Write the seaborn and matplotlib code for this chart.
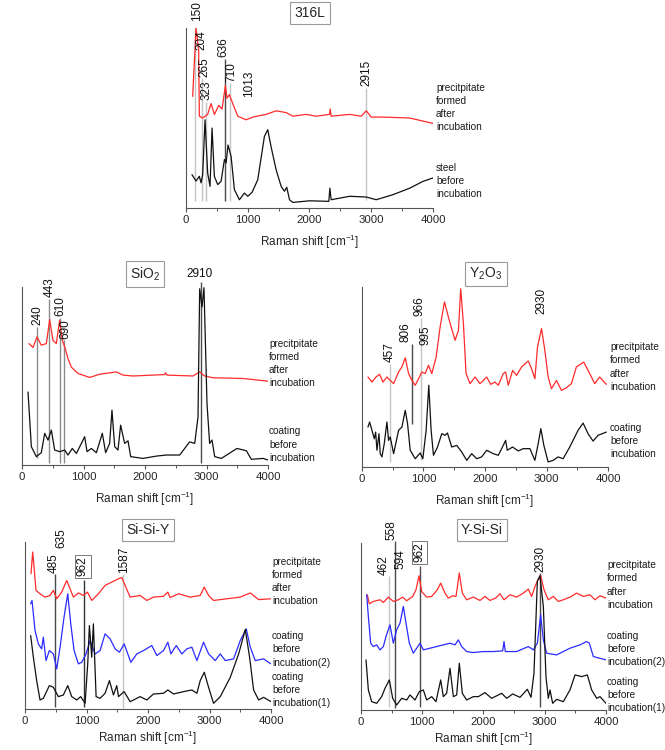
import matplotlib
matplotlib.use("Agg")
import matplotlib.pyplot as plt
import pandas as pd
import seaborn as sns

# --- Spectra (Raman shift in cm-1, intensity in arbitrary units, 0-100 per panel) ---

L316_PREC_X = [108, 162, 205, 216, 270, 351, 405, 460, 530, 584, 638, 665, 703, 757, 838, 973, 1081, 1297,
               1459, 1622, 1730, 1946, 2108, 2324, 2335, 2351, 2649, 2838, 2919, 3000, 3189, 3622, 4000]
L316_PREC_Y = [62, 100, 88, 51, 50, 52, 58, 52, 57, 55, 68, 61, 63, 58, 51, 49, 50.5, 52,
               54, 53, 51, 52, 51, 52, 55, 51, 52, 51, 54, 50.5, 50.5, 50, 47]
L316_STEEL_X = [97, 162, 216, 243, 270, 308, 351, 389, 422, 459, 514, 568, 622, 649, 681, 730, 784, 865, 946, 1000,
                1070, 1162, 1270, 1324, 1378, 1459, 1541, 1595, 1632, 1676, 1730, 2000, 2313, 2330, 2351, 2649,
                2919, 3081, 3351, 3622, 3838, 4000]
L316_STEEL_Y = [18.5, 15, 17.6, 14, 18.5, 49, 19.4, 12, 44.4, 17.6, 13, 14.8, 26.9, 25, 35, 28.7, 10.2, 4.6, 8.3, 6.5,
                8.7, 15.7, 39.8, 43.5, 34, 21.3, 12, 9.3, 11.5, 4.6, 3.1, 4, 3.7, 11, 4.6, 6.5,
                6.1, 4.6, 7.4, 11, 14.8, 16.7]

SIO2_PREC_X = [114, 179, 244, 314, 396, 450, 504, 558, 612, 656, 694, 748, 802, 911, 1100, 1263, 1534, 1642,
               1805, 2320, 2336, 2358, 2780, 2889, 2970, 3106, 3594, 4000]
SIO2_PREC_Y = [68.2, 66, 72, 67.3, 68.2, 81.7, 70, 68.2, 81.3, 70, 66.4, 59.8, 55, 51.4, 49.2, 51, 52.3, 50.5,
               50, 50.8, 51.8, 50.5, 50, 52.3, 50, 49, 48.6, 47.1]
SIO2_COAT_X = [98, 152, 233, 314, 369, 423, 477, 531, 612, 694, 748, 818, 884, 965, 1019, 1057, 1127, 1209, 1306,
               1360, 1425, 1463, 1507, 1561, 1604, 1669, 1724, 1767, 1967, 2184, 2347, 2564, 2726, 2808, 2862,
               2889, 2927, 2959, 3008, 3051, 3089, 3133, 3241, 3496, 3648, 3729, 3919, 4000]
SIO2_COAT_Y = [41, 10.3, 4.7, 6.9, 17.8, 14, 19.6, 8.4, 7.5, 8.4, 5.6, 9.3, 6.5, 12.1, 15.9, 7.5, 9.3, 6.9, 17.8,
               6.9, 12.1, 30.8, 10.3, 8.4, 22.4, 12.1, 13.6, 4.7, 3.7, 5, 5.6, 5.6, 13, 12.1, 27,
               99, 88.8, 99.6, 34.6, 12.1, 14, 4.7, 3.7, 9.3, 8, 3.2, 3.7, 2.8]

Y2O3_PREC_X = [97, 162, 227, 286, 340, 405, 459, 514, 595, 649, 703, 757, 811, 865, 919, 973, 1027, 1081, 1135,
               1205, 1270, 1341, 1405, 1449, 1514, 1568, 1605, 1649, 1692, 1757, 1838, 1919, 2027, 2092, 2162,
               2216, 2297, 2335, 2378, 2449, 2514, 2595, 2703, 2757, 2811, 2854, 2919, 2973, 3027, 3081, 3162,
               3243, 3324, 3405, 3486, 3605, 3703, 3784, 3865, 3973]
Y2O3_PREC_Y = [50, 47.2, 50, 51.5, 47.2, 50, 48.1, 46.3, 52.8, 55.6, 60.7, 51.9, 48.1, 45.4, 49, 52.8, 51.9, 56.5,
               51.9, 61, 77.8, 91.7, 83.3, 77.8, 70.4, 75.9, 99, 79.6, 51.9, 46.3, 50, 46.3, 50, 45.9, 47.2,
               45.4, 51.9, 52.8, 45.4, 53.7, 50.9, 55.6, 58.9, 54.6, 49, 66.7, 76.9, 64.8, 50, 43.5, 48.1,
               42.6, 44, 46.3, 55.6, 58.3, 51.9, 46.3, 50, 45.9]
Y2O3_COAT_X = [97, 124, 162, 200, 222, 243, 276, 297, 324, 362, 405, 432, 459, 514, 595, 649, 703, 741, 784, 865,
               946, 989, 1043, 1086, 1124, 1162, 1227, 1297, 1351, 1389, 1459, 1541, 1622, 1703, 1784, 1865,
               1946, 2027, 2135, 2216, 2297, 2335, 2362, 2449, 2541, 2622, 2730, 2811, 2865, 2908, 2957, 3027,
               3108, 3189, 3270, 3378, 3514, 3595, 3676, 3757, 3838, 3973]
Y2O3_COAT_Y = [22.2, 25, 20.4, 15.7, 19.4, 9.3, 18.5, 7.4, 5.6, 13, 25, 14.8, 16.7, 7.4, 20.4, 22.2, 31.5, 24, 9.3,
               4.6, 7.8, 4.6, 20.4, 45.4, 20.4, 6.5, 11, 18.5, 17.6, 18.9, 11.1, 12, 8.3, 3.7, 7.4, 4.6,
               5.6, 9.3, 7.4, 6.5, 12, 14.8, 9.3, 11.1, 8.9, 10.2, 10.2, 3.7, 13, 21.3, 12, 2.8,
               3.7, 5.6, 4.6, 11.1, 20.4, 24.4, 18.5, 14.4, 17.6, 19.4]

SSY_PREC_X = [98, 125, 147, 179, 244, 326, 407, 461, 516, 597, 678, 733, 787, 868, 950, 1015, 1085, 1194, 1302,
              1411, 1520, 1574, 1628, 1709, 1872, 1981, 2089, 2252, 2323, 2360, 2496, 2686, 2849, 2915, 2985,
              3066, 3283, 3500, 3663, 3799, 4000]
SSY_PREC_Y = [81, 94, 85, 71, 69, 67, 68, 71, 66, 70, 77, 72, 67, 69.5, 68, 70, 65, 69, 74,
              76, 78, 78.7, 74, 67, 68, 65, 67, 67.5, 70, 66.7, 69, 67, 68, 73, 68,
              65, 66, 67, 69.5, 65.5, 66]
SSY_COAT2_X = [92, 114, 163, 217, 271, 298, 342, 396, 461, 516, 570, 635, 695, 744, 798, 868, 923, 993, 1058, 1140,
               1221, 1302, 1384, 1465, 1536, 1612, 1721, 1818, 1927, 2062, 2144, 2252, 2323, 2372, 2459, 2551,
               2632, 2713, 2795, 2903, 2985, 3093, 3175, 3256, 3392, 3500, 3598, 3663, 3744, 3880, 4000]
SSY_COAT2_Y = [63, 65, 47, 39, 36, 43, 29, 35, 33, 24, 37, 55, 69, 51, 35, 27, 28, 33, 41, 33,
               35, 45, 42, 36, 34, 39, 28, 33, 35, 38, 32, 35, 40, 33, 38, 33,
               36, 37, 29, 40, 33, 29, 33, 29, 30, 41, 48, 37, 29, 30, 27]
SSY_COAT1_X = [92, 136, 190, 244, 298, 396, 461, 543, 624, 695, 760, 841, 906, 977, 1020, 1047, 1085, 1112, 1156,
               1221, 1302, 1373, 1438, 1492, 1520, 1612, 1709, 1872, 1981, 2089, 2252, 2323, 2415, 2578, 2713,
               2795, 2849, 2915, 2985, 3066, 3175, 3338, 3474, 3582, 3652, 3717, 3799, 3880, 4000]
SSY_COAT1_Y = [44, 31, 17, 5.4, 6.4, 14, 13, 7.4, 8.4, 14, 7.4, 5.4, 7.4, 3.4, 27, 50, 31, 51, 7.4,
               6.4, 9.4, 17, 8.4, 14, 7.4, 10.4, 4.4, 7.4, 5.4, 9, 9.4, 11.4, 9, 10.4, 11.4,
               9.4, 17, 22, 13, 3.4, 7.4, 19, 33, 47.6, 31, 11.4, 5.4, 7, 4.4]

YSS_PREC_X = [103, 136, 201, 310, 365, 446, 528, 610, 680, 746, 844, 898, 947, 990, 1072, 1154, 1246, 1301, 1371,
              1426, 1497, 1551, 1605, 1654, 1725, 1834, 1943, 2024, 2106, 2198, 2269, 2335, 2433, 2541, 2650,
              2732, 2786, 2841, 2895, 2933, 2988, 3058, 3140, 3222, 3303, 3412, 3521, 3630, 3739, 3820, 3902, 4000]
YSS_PREC_Y = [69, 63.6, 65, 66, 64.4, 67.6, 65, 66, 67.6, 65.4, 68, 72, 80.4, 71, 67.6, 68, 72, 76, 70,
              67, 68.4, 68, 82, 70, 66, 67.6, 65.6, 68, 65.6, 67, 69.6, 66, 69, 67.6, 70,
              72.4, 68, 74, 78.4, 80.4, 72, 66, 68, 65, 66, 67.6, 70, 68, 69, 66, 68.4, 67]
YSS_COAT2_X = [93, 120, 158, 201, 256, 310, 365, 408, 473, 528, 582, 637, 691, 735, 789, 854, 909, 963, 1018, 1127,
               1235, 1344, 1453, 1535, 1589, 1643, 1725, 1834, 1997, 2160, 2313, 2335, 2356, 2541, 2732, 2814,
               2879, 2933, 2977, 3031, 3194, 3412, 3575, 3684, 3728, 3793, 4000]
YSS_COAT2_Y = [69, 56, 40, 38, 39, 36, 38, 44, 51, 40, 48, 52, 62, 52, 40, 34, 37, 40, 36, 37,
               38, 39, 40, 39, 42, 38, 35, 34.4, 35, 35, 35.4, 41, 35, 35, 38, 36,
               40, 57, 42, 34, 33, 37, 39, 41, 40, 32, 30]
YSS_COAT1_X = [82, 120, 174, 256, 337, 392, 463, 517, 582, 664, 746, 800, 882, 952, 1018, 1072, 1154, 1224, 1301,
               1344, 1398, 1453, 1508, 1562, 1605, 1654, 1725, 1834, 1916, 2024, 2133, 2297, 2378, 2476, 2596,
               2716, 2776, 2824, 2879, 2922, 2977, 3020, 3058, 3086, 3129, 3194, 3303, 3412, 3494, 3603, 3695,
               3766, 3848, 3902, 4000]
YSS_COAT1_Y = [30, 12, 5, 4, 8, 13, 18, 7, 3, 7, 6, 9, 6, 11, 12, 6, 8, 5, 18,
               8, 10, 25, 8, 9, 28, 10, 6, 8, 8, 10.4, 7, 10, 7, 9.6, 7.6,
               12.4, 7.6, 22, 77, 80.4, 62, 20, 7, 12, 4, 6.4, 5, 12, 21, 20, 21,
               12, 7, 8, 4]

# peak labels (cm-1) marked in each panel
L316_PEAKS = [150, 204, 265, 323, 636, 710, 1013, 2915]
SIO2_PEAKS = [240, 443, 610, 690, 2910]
Y2O3_PEAKS = [457, 806, 966, 995, 2930]
SSY_PEAKS = [485, 635, 962, 1587]
YSS_PEAKS = [462, 558, 594, 962, 2930]

PREC_TEXT = "precitpitate\nformed\nafter\nincubation"

# --- Styling ---
W, H = 665, 750
RED, BLUE, BLACK = "#ff2b2b", "#2b2bff", "#111111"
LIGHT, MID, DARK = "#c4c4c4", "#8a8a8a", "#4a4a4a"

sns.set_style("ticks")
plt.rcParams["font.family"] = ["Liberation Sans", "DejaVu Sans"]
plt.rcParams["mathtext.fontset"] = "custom"
plt.rcParams["mathtext.rm"] = "Liberation Sans"
plt.rcParams["mathtext.default"] = "regular"

fig = plt.figure(figsize=(W / 100, H / 100), dpi=100)


def fx(x):
    return x / W


def fy(y):
    return 1 - y / H


def make_axes(left, top, right, bottom):
    ax = fig.add_axes([fx(left), fy(bottom), (right - left) / W, (bottom - top) / H])
    ax.set_xlim(0, 4000)
    ax.set_ylim(0, 100)
    ax.set_xticks([0, 1000, 2000, 3000, 4000])
    ax.set_xticks([500, 1500, 2500, 3500], minor=True)
    ax.set_yticks([])
    for side in ["top", "right"]:
        ax.spines[side].set_visible(False)
    for side in ["left", "bottom"]:
        ax.spines[side].set_color("#555555")
        ax.spines[side].set_linewidth(0.8)
    ax.tick_params(axis="x", which="major", length=3, width=0.8, color="#555555", labelsize=8.2, pad=2)
    ax.tick_params(axis="x", which="minor", length=2, width=0.7, color="#555555")
    ax.patch.set_alpha(0)
    return ax


def spectrum(ax, x, y, color):
    df = pd.DataFrame({"shift": x, "intensity": y})
    sns.lineplot(data=df, x="shift", y="intensity", ax=ax, color=color, lw=0.9,
                 sort=False, estimator=None, zorder=3)


def peak(ax, label, lo=None, hi=None, color=MID, tx=None, ty=None, boxed=False, rot=90):
    if lo is not None:
        ax.vlines(label, lo, hi, color=color, lw=1.0, zorder=2, clip_on=False)
    tx = label if tx is None else tx
    ty = (hi + 0.8) if ty is None else ty
    bbox = dict(boxstyle="square,pad=0.15", fc="white", ec="#777777", lw=0.7) if boxed else None
    ax.text(tx, ty, str(label), rotation=rot, ha="center", va="bottom", fontsize=8.5,
            color="#111111", clip_on=False, bbox=bbox, zorder=4)


def finish(ax, title, tcx, tcy, xpad=6):
    ax.set_xlabel("Raman shift [cm$^{-1}$]", fontsize=8.5, labelpad=xpad)
    ax.set_ylabel("Intensity [count]", fontsize=8.5, labelpad=5)
    fig.text(fx(tcx), fy(tcy), title, ha="center", va="center", fontsize=10,
             bbox=dict(boxstyle="square,pad=0.3", fc="white", ec="#9a9a9a", lw=0.8))


def side_text(x, y, text):
    fig.text(fx(x), fy(y), text, ha="left", va="center", fontsize=7.2,
             linespacing=1.4, color="#1a1a1a")


# --- 316L ---
ax = make_axes(186, 28, 433, 208)
spectrum(ax, L316_PREC_X, L316_PREC_Y, RED)
spectrum(ax, L316_STEEL_X, L316_STEEL_Y, BLACK)
peak(ax, L316_PEAKS[0], 3.7, 100, LIGHT, tx=178, ty=104)
peak(ax, L316_PEAKS[1], tx=243, ty=88)
peak(ax, L316_PEAKS[2], 3.7, 72, LIGHT, tx=297)
peak(ax, L316_PEAKS[3], 3.7, 59, LIGHT, tx=335)
peak(ax, L316_PEAKS[4], 3.7, 83, DARK, tx=605)
peak(ax, L316_PEAKS[5], 3.7, 69.4, LIGHT, tx=730)
peak(ax, L316_PEAKS[6], tx=1027, ty=61.7)
peak(ax, L316_PEAKS[7], 4.6, 66.7, LIGHT)
finish(ax, "316L", 310, 13)
side_text(436, 107.5, PREC_TEXT)
side_text(436, 181, "steel\nbefore\nincubation")

# --- SiO2 ---
ax = make_axes(22, 287, 268, 465)
spectrum(ax, SIO2_PREC_X, SIO2_PREC_Y, RED)
spectrum(ax, SIO2_COAT_X, SIO2_COAT_Y, BLACK)
peak(ax, SIO2_PEAKS[0], 4, 77.6, MID, tx=244)
peak(ax, SIO2_PEAKS[1], 1, 93.5, MID, tx=450)
peak(ax, SIO2_PEAKS[2], 1, 82.8, MID, tx=623)
peak(ax, SIO2_PEAKS[3], 1, 70, MID, tx=705)
peak(ax, SIO2_PEAKS[4], 1, 102.8, DARK, tx=2889, ty=104, rot=0)
finish(ax, "SiO$_2$", 145, 274)
side_text(269, 363.5, PREC_TEXT)
side_text(269, 444.5, "coating\nbefore\nincubation")

# --- Y2O3 ---
ax = make_axes(362, 287, 608, 467)
spectrum(ax, Y2O3_PREC_X, Y2O3_PREC_Y, RED)
spectrum(ax, Y2O3_COAT_X, Y2O3_COAT_Y, BLACK)
peak(ax, Y2O3_PEAKS[0], 2.8, 57.4, LIGHT, tx=449)
peak(ax, Y2O3_PEAKS[1], 24, 68.5, DARK, tx=703, ty=69.4)
peak(ax, Y2O3_PEAKS[2], 4, 83, LIGHT, tx=930, ty=83.7)
peak(ax, Y2O3_PEAKS[3], tx=1038, ty=67.6)
peak(ax, Y2O3_PEAKS[4], tx=2919, ty=85.2)
finish(ax, "Y$_2$O$_3$", 486, 274)
side_text(610, 367, PREC_TEXT)
side_text(610, 441, "coating\nbefore\nincubation")

# --- Si-Si-Y ---
ax = make_axes(25, 542, 271, 709)
spectrum(ax, SSY_PREC_X, SSY_PREC_Y, RED)
spectrum(ax, SSY_COAT2_X, SSY_COAT2_Y, BLUE)
spectrum(ax, SSY_COAT1_X, SSY_COAT1_Y, BLACK)
peak(ax, SSY_PEAKS[0], 1.4, 81, DARK, tx=461, ty=81.5)
peak(ax, SSY_PEAKS[1], tx=597, ty=96.6)
peak(ax, SSY_PEAKS[2], 1.4, 77, "#333333", tx=939, ty=79.5, boxed=True)
peak(ax, SSY_PEAKS[3], 0.4, 81, LIGHT, tx=1612, ty=81.5)
finish(ax, "Si-Si-Y", 148, 530, xpad=2)
side_text(272, 581.5, PREC_TEXT)
side_text(272, 649.5, "coating\nbefore\nincubation(2)")
side_text(272, 690, "coating\nbefore\nincubation(1)")

# --- Y-Si-Si ---
ax = make_axes(361, 543, 606, 710)
spectrum(ax, YSS_PREC_X, YSS_PREC_Y, RED)
spectrum(ax, YSS_COAT2_X, YSS_COAT2_Y, BLUE)
spectrum(ax, YSS_COAT1_X, YSS_COAT1_Y, BLACK)
peak(ax, YSS_PEAKS[0], 2, 80, LIGHT, tx=376, ty=81)
peak(ax, YSS_PEAKS[1], 1, 101, DARK, tx=501, ty=101.6)
peak(ax, YSS_PEAKS[2], tx=648, ty=84.6)
peak(ax, YSS_PEAKS[3], 2, 86, DARK, tx=952, ty=88.5, boxed=True)
peak(ax, YSS_PEAKS[4], 2, 82, DARK)
finish(ax, "Y-Si-Si", 482, 530, xpad=2)
side_text(607, 585, PREC_TEXT)
side_text(607, 649, "coating\nbefore\nincubation(2)")
side_text(607, 695, "coating\nbefore\nincubation(1)")

fig.savefig("out.png", dpi=100)
